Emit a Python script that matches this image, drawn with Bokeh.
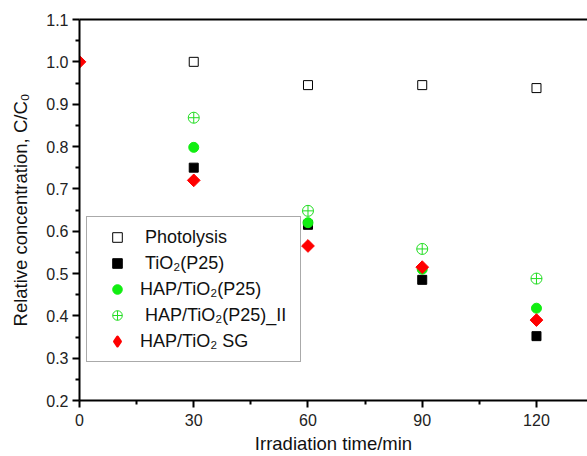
import math
from bokeh.plotting import figure
from bokeh.models import Range1d, FixedTicker, LinearAxis, Legend, LegendItem, NumeralTickFormatter
from bokeh.embed import file_html
from bokeh.resources import INLINE

# ---- data ----
t_photolysis = [30, 60, 90, 120]
c_photolysis = [1.0, 0.945, 0.945, 0.938]

t_tio2 = [30, 60, 90, 120]
c_tio2 = [0.75, 0.615, 0.485, 0.352]

t_hap = [30, 60, 90, 120]
c_hap = [0.798, 0.62, 0.51, 0.418]

t_hap_ii = [30, 60, 90, 120]
c_hap_ii = [0.868, 0.648, 0.558, 0.488]

t_sg = [0, 30, 60, 90, 120]
c_sg = [1.0, 0.72, 0.565, 0.515, 0.39]

x_ticks = [0, 30, 60, 90, 120]
x_minor = [15, 45, 75, 105]
y_ticks = [0.2, 0.3, 0.4, 0.5, 0.6, 0.7, 0.8, 0.9, 1.0, 1.1]
y_minor = [0.25, 0.35, 0.45, 0.55, 0.65, 0.75, 0.85, 0.95, 1.05]

NB = "\u00a0"
labels = [NB + "Photolysis", NB + "TiO\u2082(P25)", "HAP/TiO\u2082(P25)",
          NB + "HAP/TiO\u2082(P25)_II", "HAP/TiO\u2082 SG"]

FONT = "Liberation Sans"

p = figure(width=587, height=456, output_backend="svg", toolbar_location=None,
           x_range=Range1d(0, 133.4), y_range=Range1d(0.2, 1.1),
           min_border_left=79, min_border_right=0, min_border_top=19, min_border_bottom=56,
           x_axis_label="Irradiation time/min", y_axis_label="Relative concentration, C/C\u2080")
p.outline_line_color = None
p.grid.visible = False
p.background_fill_color = "white"
p.border_fill_color = "white"

p.xaxis.ticker = FixedTicker(ticks=x_ticks, minor_ticks=x_minor)
p.yaxis.ticker = FixedTicker(ticks=y_ticks, minor_ticks=y_minor)
p.yaxis.formatter = NumeralTickFormatter(format="0.0")

for ax in (p.xaxis[0], p.yaxis[0]):
    ax.axis_line_width = 2
    ax.axis_line_color = "black"
    ax.major_tick_line_width = 2
    ax.minor_tick_line_width = 2
    ax.major_tick_out = 7
    ax.major_tick_in = 0
    ax.minor_tick_out = 4
    ax.minor_tick_in = 0
    ax.major_label_text_font = FONT
    ax.major_label_text_font_size = "16px"
    ax.major_label_text_color = "#222222"
    ax.axis_label_text_font = FONT
    ax.axis_label_text_font_size = "18.5px"
    ax.axis_label_text_font_style = "normal"
    ax.axis_label_text_color = "#111111"
p.xaxis.major_label_standoff = 6
p.xaxis.axis_label_standoff = 4
p.yaxis.major_label_standoff = 4
p.yaxis.axis_label_standoff = 12

top = LinearAxis(major_tick_line_color=None, minor_tick_line_color=None,
                 major_label_text_font_size="0px", axis_line_width=2, axis_line_color="black")
top.ticker = FixedTicker(ticks=[])
p.add_layout(top, "above")

r1 = p.scatter(t_photolysis, c_photolysis, marker="square", size=9, fill_color="white",
               line_color="black", line_width=1)
r2 = p.scatter(t_tio2, c_tio2, marker="square", size=9, fill_color="black", line_color="black")
r3 = p.scatter(t_hap, c_hap, marker="circle", size=10, fill_color="#11ee11", line_color="#11ee11")
r4 = p.scatter(t_hap_ii, c_hap_ii, marker="circle_cross", size=11, fill_color=None,
               line_color="#22dd22", line_width=1)
r5 = p.scatter(t_sg, c_sg, marker="square", size=9, angle=math.pi / 4, fill_color="#ff0000",
               line_color="#ff0000")
# legend-only glyph for the diamond (legend ignores marker angle); NaN point is never drawn in the plot
r5_leg = p.scatter(x=[math.nan], y=[math.nan], marker="diamond", size=16,
                   fill_color="#ff0000", line_color="#ff0000", line_width=2.5, line_join="round")

legend = Legend(items=[LegendItem(label=l, renderers=[r]) for l, r in zip(labels, [r1, r2, r3, r4, r5_leg])],
                location=(7, 38))
legend.label_text_font = FONT
legend.label_text_font_size = "18px"
legend.label_text_color = "#111111"
legend.glyph_width = 44
legend.glyph_height = 24
legend.label_height = 20
legend.label_width = 152
legend.label_standoff = 1
legend.spacing = 2
legend.padding = 8
legend.border_line_color = "#555555"
legend.border_line_width = 1
legend.background_fill_alpha = 1.0
p.add_layout(legend, "center")

open("out.html", "w").write(file_html(p, INLINE))
